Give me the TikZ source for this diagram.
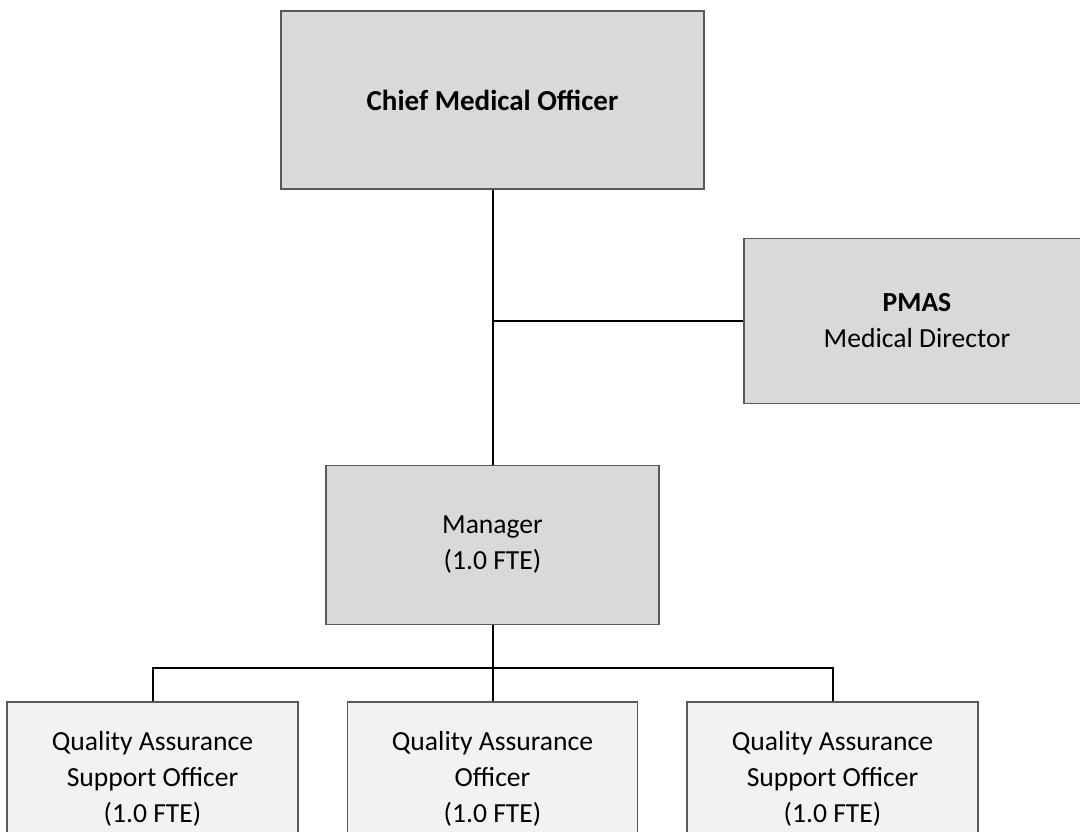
\documentclass[tikz,border=0pt]{standalone}
\usepackage{fontspec}
\setmainfont{Carlito}
\definecolor{boxdark}{HTML}{D9D9D9}
\definecolor{boxlight}{HTML}{F2F2F2}
\definecolor{boxline}{HTML}{595959}
\tikzset{
  orgbox/.style={draw=boxline, line width=1.3pt, rectangle, align=center, inner sep=0pt,
    font=\fontsize{27.6}{36}\selectfont},
  darkbox/.style={orgbox, fill=boxdark},
  lightbox/.style={orgbox, fill=boxlight},
  conn/.style={draw=black, line width=2pt}
}
\begin{document}
\begin{tikzpicture}[x=1pt,y=-1pt]
\path[use as bounding box, clip] (0,0) rectangle (1080,832);
\fill[white] (0,0) rectangle (1080,832);
\node[darkbox, minimum width=423pt, minimum height=178pt] (cmo) at (492.5,100)
  {\textbf{\fontsize{29}{36}\selectfont Chief Medical Officer}};
\node[darkbox, minimum width=346pt, minimum height=165pt] (pmas) at (917,321)
  {\textbf{PMAS}\\Medical Director};
\node[darkbox, minimum width=333pt, minimum height=159pt] (mgr) at (492.5,545)
  {Manager\\(1.0 FTE)};
\node[lightbox, minimum width=291pt, minimum height=154pt] (qa1) at (152.5,779)
  {Quality Assurance\\Support Officer\\(1.0 FTE)};
\node[lightbox, minimum width=290pt, minimum height=154pt] (qa2) at (492.5,779)
  {Quality Assurance\\Officer\\(1.0 FTE)};
\node[lightbox, minimum width=291pt, minimum height=154pt] (qa3) at (832.5,779)
  {Quality Assurance\\Support Officer\\(1.0 FTE)};
\coordinate (bus) at (492.5,668);
\draw[conn] (cmo.south) -- (mgr.north);
\draw[conn] (cmo.south |- pmas.west) -- (pmas.west);
\draw[conn] (mgr.south) -- (qa2.north);
\draw[conn] (qa1.north) |- (bus) -| (qa3.north);
\end{tikzpicture}
\end{document}
